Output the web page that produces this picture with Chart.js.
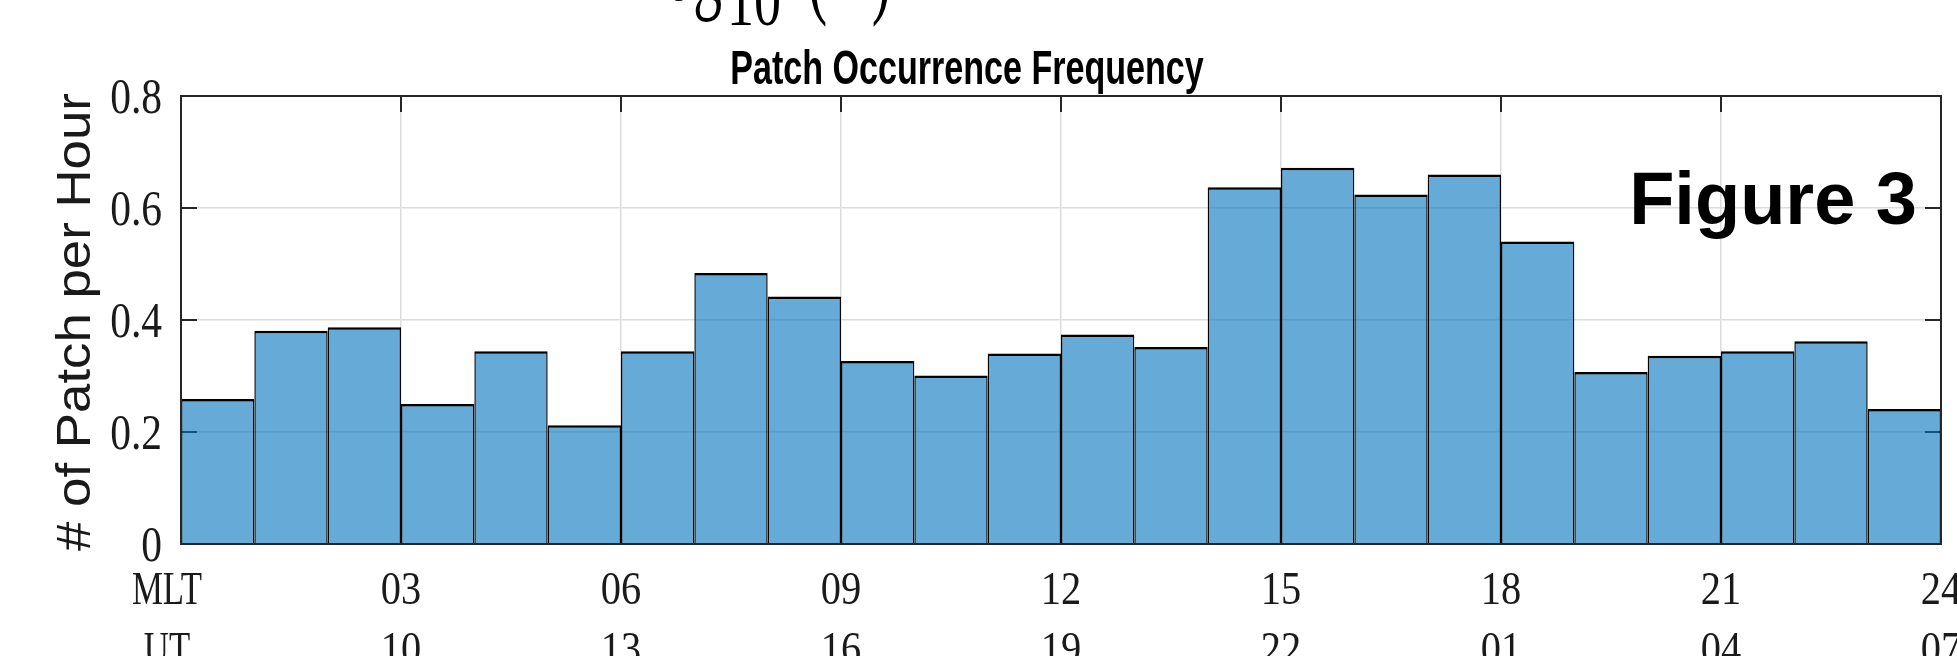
<!DOCTYPE html>
<html>
<head>
<meta charset="utf-8">
<title>Patch Occurrence Frequency</title>
<script src="https://cdn.jsdelivr.net/npm/chart.js@4.4.1/dist/chart.umd.min.js"></script>
<style>
  html, body { margin: 0; padding: 0; background: #ffffff; overflow: hidden; }
  canvas { display: block; }
</style>
</head>
<body>
<canvas id="chart" width="1957" height="656"></canvas>
<script>
// Hourly MLT bins (bin centres, hours)
const hourBins = [0.5, 1.5, 2.5, 3.5, 4.5, 5.5, 6.5, 7.5, 8.5, 9.5, 10.5, 11.5,
                  12.5, 13.5, 14.5, 15.5, 16.5, 17.5, 18.5, 19.5, 20.5, 21.5, 22.5, 23.5];

// Number of patches per hour in each MLT bin
const patchRate = [0.259, 0.381, 0.387, 0.250, 0.344, 0.212, 0.344, 0.484,
                   0.442, 0.327, 0.301, 0.340, 0.374, 0.352, 0.637, 0.672,
                   0.624, 0.660, 0.540, 0.307, 0.336, 0.344, 0.362, 0.241];

// Two-row time axis: MLT and the corresponding UT
const mltTickLabels = ['MLT', '03', '06', '09', '12', '15', '18', '21', '24'];
const utTickLabels  = ['UT',  '10', '13', '16', '19', '22', '01', '04', '07'];
const yTickLabels   = ['0', '0.2', '0.4', '0.6', '0.8'];

const titleText  = 'Patch Occurrence Frequency';
const yLabelText = '# of Patch per Hour';
const tagText    = 'Figure 3';

const AXIS_COLOR = '#262626';
const LABEL_COLOR = '#1a1a1a';
const SERIF = '"Liberation Serif", "DejaVu Serif", serif';
const SANS  = '"Liberation Sans", Arial, Helvetica, sans-serif';

// Draw a string with optional rotation and horizontal/vertical scaling
function drawText(ctx, s, x, y, font, o) {
  o = o || {};
  ctx.save();
  ctx.translate(x, y);
  if (o.rot) ctx.rotate(o.rot);
  ctx.scale(o.sx || 1, o.sy || 1);
  ctx.font = font;
  ctx.textAlign = o.align || 'center';
  ctx.textBaseline = o.base || 'alphabetic';
  ctx.fillStyle = o.color || '#000000';
  ctx.fillText(s, 0, 0);
  ctx.restore();
}

// Inward tick marks (under the translucent bars, like the axes layer)
const innerTicks = {
  id: 'innerTicks',
  beforeDatasetsDraw(chart) {
    const { ctx, chartArea: a, scales: { x, y } } = chart;
    const len = 16;
    ctx.save();
    ctx.strokeStyle = AXIS_COLOR;
    ctx.lineWidth = 2;
    ctx.beginPath();
    y.ticks.forEach(t => {
      if (t.value <= y.min || t.value >= y.max) return;
      const py = Math.round(y.getPixelForValue(t.value));
      ctx.moveTo(a.left, py);  ctx.lineTo(a.left + len, py);
      ctx.moveTo(a.right, py); ctx.lineTo(a.right - len, py);
    });
    x.ticks.forEach(t => {
      if (t.value <= x.min || t.value >= x.max) return;
      const px = Math.round(x.getPixelForValue(t.value));
      ctx.moveTo(px, a.top); ctx.lineTo(px, a.top + len);
    });
    ctx.stroke();
    ctx.restore();
  }
};

// Axes box, tick labels, titles and annotations
const frameAndText = {
  id: 'frameAndText',
  afterDatasetsDraw(chart) {
    const { ctx, chartArea: a, scales: { x, y } } = chart;

    ctx.save();
    ctx.strokeStyle = AXIS_COLOR;
    ctx.lineWidth = 2;
    ctx.strokeRect(a.left, a.top, a.right - a.left, a.bottom - a.top);
    ctx.restore();

    // y tick labels
    y.ticks.forEach((t, i) => {
      const py = y.getPixelForValue(t.value);
      drawText(ctx, yTickLabels[i], a.left - 19, py + 17, '50px ' + SERIF,
               { align: 'right', sx: 0.83, color: LABEL_COLOR });
    });

    // x tick labels, two rows (row headers sit just left of the first tick)
    x.ticks.forEach((t, i) => {
      let px = x.getPixelForValue(t.value);
      let sx = 0.86;
      if (i === 0) { px -= 14; sx = 0.74; }
      drawText(ctx, mltTickLabels[i], px, a.bottom + 60, '47px ' + SERIF,
               { sx: sx, color: LABEL_COLOR });
      drawText(ctx, utTickLabels[i], px, a.bottom + 120, '47px ' + SERIF,
               { sx: sx, color: LABEL_COLOR });
    });

    // title
    drawText(ctx, titleText, 967, 84, 'bold 48px ' + SANS,
             { sx: 0.71, color: '#000000' });

    // y-axis label
    drawText(ctx, yLabelText, 90, (a.top + a.bottom) / 2 + 2, '48px ' + SANS,
             { rot: -Math.PI / 2, sx: 1.10, color: LABEL_COLOR });

    // panel tag
    drawText(ctx, tagText, 1917, 224, 'bold 74px ' + SANS,
             { align: 'right', color: '#000000' });

    // bottom of the preceding text line of the page: log10(·)
    drawText(ctx, 'log', 722, 0, '72px ' + SERIF, { align: 'right', sx: 0.8, sy: 1.4 });
    drawText(ctx, '10', 727, 25, '60px ' + SERIF, { align: 'left', sx: 0.9, sy: 1.2 });
    drawText(ctx, '(', 808, 5, '72px ' + SERIF, { align: 'left', sx: 0.8, sy: 1.4 });
    drawText(ctx, '\u00b7', 850, 5, '72px ' + SERIF, { align: 'center', sx: 0.8, sy: 1.4 });
    drawText(ctx, ')', 891, 5, '72px ' + SERIF, { align: 'right', sx: 0.8, sy: 1.4 });
  }
};

new Chart(document.getElementById('chart'), {
  type: 'bar',
  data: {
    datasets: [{
      label: titleText,
      data: hourBins.map((h, i) => ({ x: h, y: patchRate[i] })),
      backgroundColor: 'rgba(0, 114, 189, 0.6)',
      borderColor: '#000000',
      borderWidth: { top: 2.5, left: 1.4, right: 1.4, bottom: 0 },
      borderSkipped: false,
      barPercentage: 1.0,
      categoryPercentage: 1.0,
      inflateAmount: 0
    }]
  },
  options: {
    responsive: false,
    devicePixelRatio: 1,
    animation: false,
    events: [],
    layout: { padding: { left: 181, right: 16, top: 96, bottom: 112 } },
    plugins: {
      legend: { display: false },
      title: { display: false },
      tooltip: { enabled: false }
    },
    scales: {
      x: {
        type: 'linear',
        min: 0,
        max: 24,
        offset: false,
        ticks: { display: false, stepSize: 3 },
        grid: { offset: false, drawTicks: false, color: '#dcdcdc', lineWidth: 1.5 },
        border: { display: false }
      },
      y: {
        min: 0,
        max: 0.8,
        ticks: { display: false, stepSize: 0.2 },
        grid: { drawTicks: false, color: '#dcdcdc', lineWidth: 1.5 },
        border: { display: false }
      }
    }
  },
  plugins: [innerTicks, frameAndText]
});
</script>
</body>
</html>
